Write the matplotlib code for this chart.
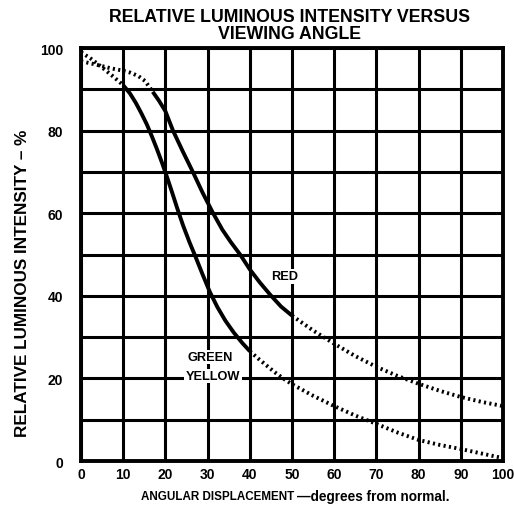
import numpy as np
import matplotlib.pyplot as plt

plt.rcParams['font.family'] = ['Liberation Sans', 'DejaVu Sans']
plt.rcParams['font.weight'] = 'bold'

# angle (degrees from normal) vs relative intensity (%)
red_x = [0, 3.5, 7, 10, 11.8, 13.6, 15.2, 17, 18.5, 20, 21.8, 24.1, 26.5, 28.8, 31.3, 33.5, 35.5, 37.7, 40, 42.4,
         44.8, 47.4, 50, 55, 60, 65, 70, 75, 80, 85, 90, 95, 100]
red_y = [96.8, 96, 95.1, 94.5, 94, 93.2, 92, 89.4, 87.2, 84.7, 80, 75, 70, 65, 60, 56, 53, 50, 46.4, 43.2,
         40.3, 37.4, 35.2, 31.6, 28.4, 25.4, 22.8, 20.6, 18.7, 17, 15.5, 14.3, 13.3]
grn_x = [0, 2.5, 5, 7.5, 10, 11.6, 13, 14.3, 15.6, 16.8, 18, 19.2, 20.4, 21.6, 22.8, 24.2, 25.7, 27.2, 28.8, 30.5,
         32.3, 34.2, 36.2, 38.2, 40, 42, 44, 45.9, 47.9, 50, 55, 60, 65, 70, 75, 80, 85, 90, 95, 100]
grn_y = [99, 97.3, 95.3, 93.2, 91, 89, 86.7, 84.2, 81.5, 78.6, 75.5, 72.2, 68.7, 65, 61.2, 57, 53, 49.3, 45.2, 41,
         37.3, 34, 31.1, 28.6, 26.6, 24.8, 23.1, 21.5, 20, 18.6, 15.8, 13.3, 11, 9, 6.9, 5.1, 3.9, 2.9, 1.8, 0.7]

# angles where each curve changes from dotted to solid and back
red_solid = (17, 50)
grn_solid = (10, 40)

fig = plt.figure(figsize=(5.14, 5.10), dpi=100)
ax = fig.add_axes([0.1576, 0.0941, 0.821, 0.8098])


def draw(xs, ys, solid):
    xs = np.array(xs)
    ys = np.array(ys)
    a, b = xs.tolist().index(solid[0]), xs.tolist().index(solid[1])
    dot = (0, (0.55, 0.85))
    ax.plot(xs[:a + 1], ys[:a + 1], color='black', lw=2.8, linestyle=dot, zorder=3)
    ax.plot(xs[a:b + 1], ys[a:b + 1], color='black', lw=2.8, solid_capstyle='butt', solid_joinstyle='round', zorder=3)
    ax.plot(xs[b:], ys[b:], color='black', lw=2.8, linestyle=dot, zorder=3)


draw(red_x, red_y, red_solid)
draw(grn_x, grn_y, grn_solid)

ax.set_xlim(0, 100)
ax.set_ylim(0, 100)
ax.set_xticks(np.arange(0, 101, 10))
ax.set_yticks(np.arange(0, 101, 10))
ax.set_yticklabels(['0', '', '20', '', '40', '', '60', '', '80', '', '100'])
ax.grid(True, color='black', lw=2.2)
ax.tick_params(axis='x', length=0, labelsize=10, pad=4)
ax.tick_params(axis='y', length=0, labelsize=10, pad=13)
for lb in ax.get_xticklabels() + ax.get_yticklabels():
    lb.set_fontweight('bold')
ax.get_xticklabels()[0].set_x(-1.2)
for s in ax.spines.values():
    s.set_linewidth(2.8)

box = dict(facecolor='white', edgecolor='none', pad=1.0)
ax.text(48.3, 44.7, 'RED', fontsize=9.2, fontweight='bold', ha='center', va='center', bbox=box, zorder=4)
ax.text(30.6, 25.2, 'GREEN', fontsize=9.2, fontweight='bold', ha='center', va='center', bbox=box, zorder=4)
ax.text(31.3, 20.6, 'YELLOW', fontsize=9.2, fontweight='bold', ha='center', va='center', bbox=box, zorder=4)

fig.text(0.564, 0.949, 'RELATIVE LUMINOUS INTENSITY VERSUS\nVIEWING ANGLE', fontsize=12.8, fontweight='bold',
         ha='center', va='center', linespacing=1.02)
fig.text(0.043, 0.445, 'RELATIVE LUMINOUS INTENSITY – %', rotation=90, fontsize=12.3, fontweight='bold',
         ha='center', va='center')
fig.text(0.572, 0.025, 'ANGULAR DISPLACEMENT', fontsize=8.4, fontweight='bold', ha='right', va='center')
fig.text(0.577, 0.025, '—degrees from normal.', fontsize=9.8, fontweight='bold', ha='left', va='center')

fig.savefig('out.png', dpi=100)
